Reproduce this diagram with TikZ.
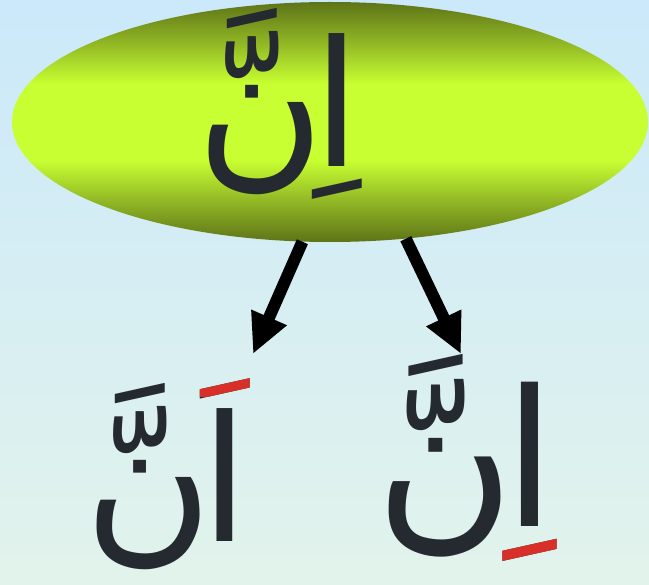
\documentclass[tikz,border=0pt]{standalone}
\usepackage{fontspec}
\usetikzlibrary{shapes.geometric,arrows.meta}
\TeXXeTstate=1
\newfontfamily\arabicfont[Script=Arabic]{DejaVu Sans}
\definecolor{bgtop}{RGB}{203,233,250}
\definecolor{bgbot}{RGB}{226,243,235}
\definecolor{olv}{RGB}{94,116,24}
\definecolor{ygr}{RGB}{200,255,50}
\definecolor{ink}{RGB}{37,42,48}
\definecolor{accent}{RGB}{216,48,40}
\pgfdeclareverticalshading{ellgrad}{100bp}{color(0bp)=(olv); color(25bp)=(olv); color(33bp)=(olv!55!ygr); color(42bp)=(ygr); color(58bp)=(ygr); color(67bp)=(olv!55!ygr); color(75bp)=(olv); color(100bp)=(olv)}
\begin{document}
\begin{tikzpicture}[x=1pt,y=-1pt,
  word/.style={text=ink, inner sep=0pt},
  arr/.style={line width=12pt, -{Triangle[length=40pt,width=36pt]}}]
\shade[top color=bgtop,bottom color=bgbot] (0,0) rectangle (649,585);
\useasboundingbox (0,0) rectangle (649,585);
\node[ellipse, shade, shading=ellgrad, minimum width=636pt, minimum height=240pt, inner sep=0pt] (top) at (330,122) {};
\node[word, font=\arabicfont\fontsize{175}{175}\selectfont] (toptext) at (279,104) {\beginR اِ\kern-12pt نَّ\endR};
\node[word, font=\arabicfont\fontsize{175}{175}\selectfont] (left) at (167,474) {\beginR اَ\kern-12pt نَّ\endR};
\node[word, font=\arabicfont\fontsize{190}{190}\selectfont] (right) at (466,458) {\beginR اِ\kern-12pt نَّ\endR};
\begin{scope}
\clip (180,350) rectangle (265,397);
\node[word, text=accent, font=\arabicfont\fontsize{175}{175}\selectfont] (leftmark) at (left.center) {\beginR اَ\kern-12pt نَّ\endR};
\end{scope}
\begin{scope}
\clip (506,528) rectangle (580,568) (494,546) rectangle (507,568);
\node[word, text=accent, font=\arabicfont\fontsize{190}{190}\selectfont] (rightmark) at (right.center) {\beginR اِ\kern-12pt نَّ\endR};
\end{scope}
\coordinate (ltip) at (253,354);
\coordinate (rtip) at (461,354);
\draw[arr] (top.257) -- (ltip);
\draw[arr] (top.303) -- (rtip);
\end{tikzpicture}
\end{document}
